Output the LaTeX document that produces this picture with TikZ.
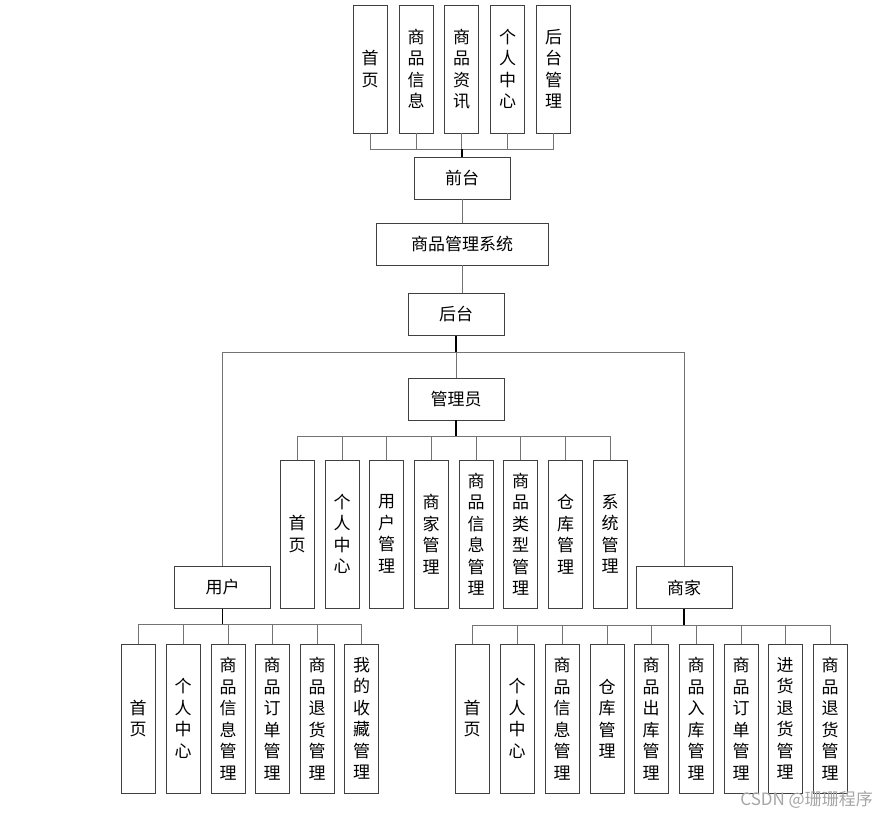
\documentclass[tikz,border=0pt]{standalone}
\usepackage{fontspec}
\setmainfont{Noto Sans CJK SC}
\newcommand\fs{\fontsize{17}{21.5}\selectfont}
\tikzset{
 vbox/.style={draw=black!75, line width=0.9pt, fill=white, minimum width=34pt, inner sep=0pt, align=center, font=\fs},
 hbox/.style={draw=black!75, line width=0.9pt, fill=white, minimum width=96pt, minimum height=42pt, inner sep=0pt, font=\fs},
 conn/.style={draw=black!55, line width=0.9pt},
 stub/.style={draw=black, line width=1.4pt},
}
\begin{document}
\begin{tikzpicture}[x=1pt,y=-1pt]
\useasboundingbox[fill=white] (0,0) rectangle (888,818);
% top row
\foreach \n/\x/\t in {t1/370/首\\页, t2/416/商\\品\\信\\息, t3/461.5/商\\品\\资\\讯, t4/507.5/个\\人\\中\\心, t5/553.5/后\\台\\管\\理}
  \node[vbox, minimum height=128pt] (\n) at (\x,69) {\t};
\node[hbox] (qt) at (462,178) {前台};
\node[hbox, minimum width=172pt] (sys) at (462,244) {商品管理系统};
\node[hbox] (ht) at (456,314.5) {后台};
\node[hbox] (gly) at (456,399) {管理员};
\node[hbox] (yh) at (222.5,587.5) {用户};
\node[hbox] (sj) at (684,587.5) {商家};
% admin children
\foreach \n/\x/\t in {a1/297/首\\页, a2/342/个\\人\\中\\心, a3/386.5/用\\户\\管\\理, a4/431/商\\家\\管\\理, a5/476/商\\品\\信\\息\\管\\理, a6/520.5/商\\品\\类\\型\\管\\理, a7/565.5/仓\\库\\管\\理, a8/610/系\\统\\管\\理}
  \node[vbox, minimum height=148pt] (\n) at (\x,534) {\t};
% user children
\foreach \n/\x/\t in {u1/138/首\\页, u2/183/个\\人\\中\\心, u3/228/商\\品\\信\\息\\管\\理, u4/272/商\\品\\订\\单\\管\\理, u5/317/商\\品\\退\\货\\管\\理, u6/361.5/我\\的\\收\\藏\\管\\理}
  \node[vbox, minimum height=149pt] (\n) at (\x,718.5) {\t};
% merchant children
\foreach \n/\x/\t in {m1/472/首\\页, m2/517/个\\人\\中\\心, m3/562/商\\品\\信\\息\\管\\理, m4/607/仓\\库\\管\\理, m5/651/商\\品\\出\\库\\管\\理, m6/696/商\\品\\入\\库\\管\\理, m7/741/商\\品\\订\\单\\管\\理, m8/785/进\\货\\退\\货\\管\\理, m9/830/商\\品\\退\\货\\管\\理}
  \node[vbox, minimum height=149pt] (\n) at (\x,718.5) {\t};
% bus coordinates
\coordinate (tb) at (462,149);
\coordinate (hb) at (456,352);
\coordinate (ab) at (456,436);
\coordinate (ub) at (222.5,624);
\coordinate (mb) at (684,625);
% top connectors
\foreach \n in {t1,t2,t3,t4,t5} \draw[conn] (\n.south) |- (tb);
\draw[stub] (tb) -- (qt.north);
\draw[conn] (qt.south) -- (sys.north);
\draw[conn] (sys.south) -- (sys.south |- ht.north);
% backend
\draw[stub] (ht.south) -- (hb);
\draw[conn] (hb) -- (gly.north);
\draw[conn] (hb) -| (yh.north);
\draw[conn] (hb) -| (sj.north);
% admin
\draw[stub] (gly.south) -- (ab);
\foreach \n in {a1,a2,a3,a4,a5,a6,a7,a8} \draw[conn] (\n.north) |- (ab);
% user
\draw[stub] (yh.south) -- (ub);
\foreach \n in {u1,u2,u3,u4,u5,u6} \draw[conn] (\n.north) |- (ub);
% merchant
\draw[stub] (sj.south) -- (mb);
\foreach \n in {m1,m2,m3,m4,m5,m6,m7,m8,m9} \draw[conn] (\n.north) |- (mb);
% watermark
\node[text=black!35, font=\fontsize{17}{19}\selectfont, anchor=east, inner sep=0pt] (wm) at (873,800) {CSDN @珊珊程序};
\end{tikzpicture}
\end{document}
